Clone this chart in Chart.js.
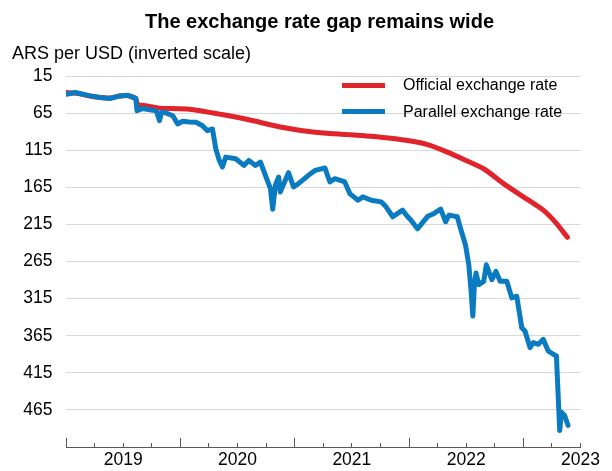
<!DOCTYPE html>
<html>
<head>
<meta charset="utf-8">
<title>The exchange rate gap remains wide</title>
<script src="https://cdn.jsdelivr.net/npm/chart.js@4.4.1/dist/chart.umd.min.js"></script>
<style>
  body { margin: 0; background: #fff; }
  #wrap { position: relative; width: 612px; height: 471px; font-family: "Liberation Sans", Arial, sans-serif; color: #000; }
  #chart { position: absolute; left: 0; top: 0; }
  .title { position: absolute; left: 145px; top: 11px; font-size: 20px; line-height: 20px; font-weight: bold; white-space: nowrap; }
  .units { position: absolute; left: 12px; top: 44px; font-size: 18px; line-height: 18px; white-space: nowrap; }
  #legend { position: absolute; left: 342px; top: 77px; }
  .legend-item { position: absolute; left: 0; height: 16px; font-size: 16px; line-height: 16px; white-space: nowrap; }
  .swatch { position: absolute; left: 0; top: 5.5px; width: 43px; height: 5px; }
  .legend-text { position: absolute; left: 61px; top: 0; }
</style>
</head>
<body>
<div id="wrap">
  <canvas id="chart" width="612" height="471"></canvas>
  <div class="title">The exchange rate gap remains wide</div>
  <div class="units">ARS per USD (inverted scale)</div>
  <div id="legend"></div>
</div>
<script>
// dates as decimal years
const officialDates = [
  2019.003, 2019.081, 2019.211, 2019.298, 2019.384, 2019.471, 2019.543, 2019.587,
  2019.612, 2019.621, 2019.645, 2019.732, 2019.818, 2020.079, 2020.365, 2020.599,
  2020.886, 2021.178, 2021.467, 2021.753, 2021.988, 2022.162, 2022.336, 2022.48,
  2022.653, 2022.827, 2023.0, 2023.174, 2023.289, 2023.385,
];
const officialRates = [
  37.3, 38, 42, 44, 44.5, 42, 41.5, 43.5,
  46, 53, 54, 56, 58.3, 59.8, 67, 74,
  84, 90.8, 94, 97.5, 102, 107.5, 117.6, 127.5,
  140, 160, 177.9, 195.8, 213.6, 232.4,
];

const parallelDates = [
  2019.003, 2019.081, 2019.211, 2019.298, 2019.384, 2019.471, 2019.543, 2019.587,
  2019.61, 2019.621, 2019.673, 2019.732, 2019.79, 2019.818, 2019.836, 2019.862,
  2019.934, 2019.977, 2020.02, 2020.079, 2020.137, 2020.194, 2020.237, 2020.281,
  2020.31, 2020.339, 2020.368, 2020.397, 2020.484, 2020.556, 2020.599, 2020.657,
  2020.701, 2020.744, 2020.788, 2020.808, 2020.831, 2020.86, 2020.874, 2020.946,
  2020.99, 2021.033, 2021.12, 2021.178, 2021.265, 2021.308, 2021.352, 2021.438,
  2021.482, 2021.554, 2021.597, 2021.669, 2021.756, 2021.799, 2021.858, 2021.901,
  2021.944, 2021.988, 2022.016, 2022.074, 2022.161, 2022.219, 2022.277, 2022.32,
  2022.35, 2022.422, 2022.45, 2022.494, 2022.523, 2022.543, 2022.558, 2022.572,
  2022.586, 2022.61, 2022.653, 2022.676, 2022.725, 2022.76, 2022.797, 2022.855,
  2022.899, 2022.942, 2022.986, 2023.014, 2023.058, 2023.087, 2023.131, 2023.174,
  2023.217, 2023.261, 2023.289, 2023.313, 2023.318, 2023.333, 2023.361, 2023.391,
];
const parallelRates = [
  39.5, 37.3, 41.8, 44, 45.3, 41.8, 40.9, 44,
  45, 61.9, 58.7, 60.5, 62, 75.3, 64, 64,
  68.6, 79.7, 76, 77, 77.4, 82, 88.7, 86.4,
  113, 128, 137.7, 124.3, 126.6, 135.5, 128.8, 135.5,
  131, 148.9, 166.8, 194.5, 162.3, 151.1, 171.3, 145.3,
  164.5, 160, 148.9, 142.2, 139, 157.8, 153.4, 157.8,
  173.5, 182.4, 177.9, 182.4, 184.6, 191.3, 204.7, 200.2,
  195.8, 204.7, 209.2, 221, 204.5, 200.2, 194.5, 211.4,
  202.5, 204.7, 220.3, 242.7, 269.5, 305.1, 338.6, 296.1,
  280.6, 296.1, 291.7, 269.5, 289.6, 278.3, 291.7, 291.7,
  314, 311.8, 354.3, 358.7, 381, 374.3, 376.6, 369.9,
  385.5, 390, 392.2, 475, 492.8, 468.1, 472.6, 486,
];

const yearLabels = ["2019", "2020", "2021", "2022", "2023"];
const yTickValues = [15, 65, 115, 165, 215, 265, 315, 365, 415, 465];
const yMin = 15;
const yMax = 515;
const xMin = 2019;
const xMax = 2023.5;

const OFFICIAL_RED = "#e1232b";
const PARALLEL_BLUE = "#0b7bc1";
const AXIS_GREY = "#595959";
const FONT_FAMILY = "'Liberation Sans', Arial, sans-serif";

const toPoints = (dates, values) => dates.map((d, i) => ({ x: d, y: values[i] }));

// quarterly tick marks, year labels sit mid-year
const quarterTicks = [];
yearLabels.forEach((y) => {
  [0, 0.25, 0.5, 0.75].forEach((q) => {
    const v = Number(y) + q;
    if (v <= xMax) quarterTicks.push(v);
  });
});

const chart = new Chart(document.getElementById("chart"), {
  type: "line",
  data: {
    datasets: [
      {
        label: "Official exchange rate",
        data: toPoints(officialDates, officialRates),
        borderColor: OFFICIAL_RED,
        backgroundColor: OFFICIAL_RED,
        borderWidth: 5,
        pointRadius: 0,
        tension: 0.2,
        borderJoinStyle: "round",
        borderCapStyle: "round",
        order: 1,
      },
      {
        label: "Parallel exchange rate",
        data: toPoints(parallelDates, parallelRates),
        borderColor: PARALLEL_BLUE,
        backgroundColor: PARALLEL_BLUE,
        borderWidth: 5,
        pointRadius: 0,
        tension: 0,
        borderJoinStyle: "round",
        borderCapStyle: "round",
        order: 0,
      },
    ],
  },
  options: {
    responsive: false,
    animation: false,
    devicePixelRatio: 1,
    layout: { padding: { top: 76, right: 28, bottom: 0, left: 0 } },
    plugins: {
      legend: { display: false },
      title: { display: false },
      tooltip: { enabled: false },
    },
    scales: {
      x: {
        type: "linear",
        min: xMin,
        max: xMax,
        afterBuildTicks: (scale) => {
          scale.ticks = quarterTicks.map((v) => ({ value: v }));
        },
        afterFit: (scale) => {
          scale.height = 22;
        },
        ticks: {
          autoSkip: false,
          maxRotation: 0,
          padding: 12,
          color: "#000",
          font: { family: FONT_FAMILY, size: 17.5 },
          callback: (value) => (value % 1 === 0.5 ? String(Math.floor(value)) : ""),
        },
        grid: {
          drawOnChartArea: false,
          tickLength: -9,
          tickColor: AXIS_GREY,
          tickWidth: 1,
          tickBorderDash: (ctx) => (ctx.tick && ctx.tick.value % 1 === 0 ? [] : [5, 20]),
        },
        border: { display: true, color: AXIS_GREY, width: 1 },
      },
      y: {
        type: "linear",
        reverse: true,
        min: yMin,
        max: yMax,
        afterBuildTicks: (scale) => {
          scale.ticks = yTickValues.map((v) => ({ value: v }));
        },
        afterFit: (scale) => {
          scale.width = 66;
        },
        ticks: {
          padding: 13.5,
          color: "#000",
          font: { family: FONT_FAMILY, size: 17.5 },
        },
        grid: { color: "#d9d9d9", lineWidth: 1, drawTicks: false },
        border: { display: false },
      },
    },
  },
});

// html legend built from the datasets
const legendBox = document.getElementById("legend");
chart.data.datasets.forEach((ds, i) => {
  const item = document.createElement("div");
  item.className = "legend-item";
  item.style.top = `${i * 26.7}px`;
  item.innerHTML = `<span class="swatch" style="background:${ds.borderColor}"></span><span class="legend-text">${ds.label}</span>`;
  legendBox.appendChild(item);
});
</script>
</body>
</html>
